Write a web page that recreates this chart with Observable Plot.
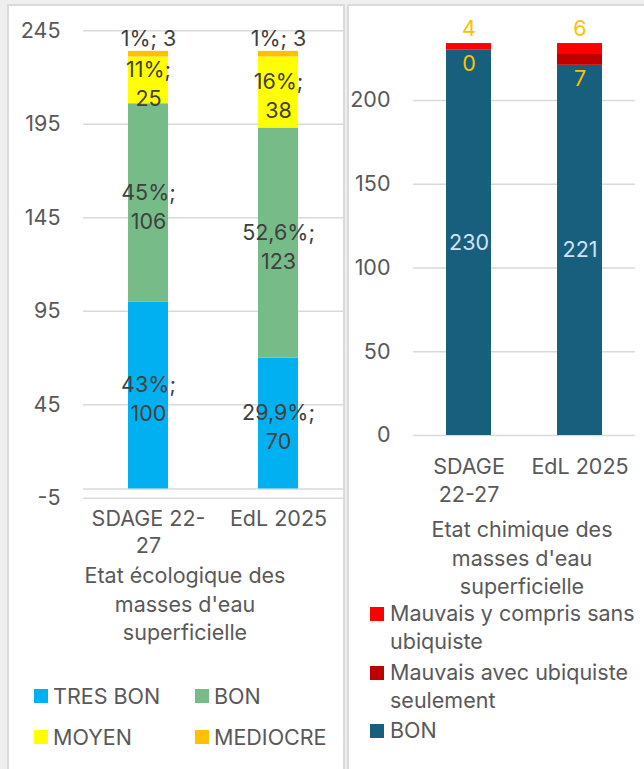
<!DOCTYPE html>
<html><head><meta charset="utf-8">
<script src="https://cdn.jsdelivr.net/npm/d3@7"></script>
<script src="https://cdn.jsdelivr.net/npm/@observablehq/plot@0.6"></script>
<style>
body{margin:0;background:#efefef;font-family:Inter,"Noto Sans",sans-serif;}
#wrap{position:relative;width:644px;height:769px;overflow:hidden;}
.panel{position:absolute;background:#fff;border:2px solid #dadada;box-sizing:border-box;}
.abs{position:absolute;}
.txt{color:#595959;font-size:21.5px;white-space:nowrap;}
.sq{position:absolute;width:14px;height:14px;}
</style></head>
<body>
<div id="wrap">
  <div class="panel" style="left:7px;top:4px;width:338px;height:790px;"></div>
  <div class="panel" style="left:347px;top:4px;width:310px;height:790px;"></div>
  <div id="left" class="abs" style="left:0;top:0;"></div>
  <div id="right" class="abs" style="left:345px;top:0;"></div>
  <div id="titles"></div>
  <div id="ecoLegend"></div>
  <div id="chemLegend"></div>
</div>
<script>
// ---- data ----
const categories = ["SDAGE 22-27", "EdL 2025"];
const ecoXLabels = ["SDAGE 22-\n27", "EdL 2025"];
const chemXLabels = ["SDAGE\n22-27", "EdL 2025"];

const ecoSeries = ["TRES BON", "BON", "MOYEN", "MEDIOCRE"];
const ecoTresBon = [100, 70];
const ecoBon = [106, 123];
const ecoMoyen = [25, 38];
const ecoMediocre = [3, 3];
const ecoPctTresBon = ["43%", "29,9%"];
const ecoPctBon = ["45%", "52,6%"];
const ecoPctMoyen = ["11%", "16%"];
const ecoPctMediocre = ["1%", "1%"];
const ecoColors = ["#00B0F0", "#77BB88", "#FFFF00", "#FFC000"];
const ecoTicks = [-5, 45, 95, 145, 195, 245];

const chemSeries = ["BON", "Mauvais avec ubiquiste seulement", "Mauvais y compris sans ubiquiste"];
const chemBon = [230, 221];
const chemUbiquiste = [0, 7];
const chemSansUbiquiste = [4, 6];
const chemColors = ["#185F7E", "#C00000", "#FF0000"];
const chemTicks = [0, 50, 100, 150, 200];

const ecoTitleLines = ["Etat écologique des", "masses d'eau", "superficielle"];
const chemTitleLines = ["Etat chimique des", "masses d'eau", "superficielle"];
const chemLegendLines = [["BON"], ["Mauvais avec ubiquiste", "seulement"], ["Mauvais y compris sans", "ubiquiste"]];

// ---- tables ----
const ecoValues = [ecoTresBon, ecoBon, ecoMoyen, ecoMediocre];
const ecoPcts = [ecoPctTresBon, ecoPctBon, ecoPctMoyen, ecoPctMediocre];
const eco = [];
ecoSeries.forEach((s, i) => categories.forEach((c, j) => eco.push({cat: c, series: s, value: ecoValues[i][j], pct: ecoPcts[i][j]})));
const chemValues = [chemBon, chemUbiquiste, chemSansUbiquiste];
const chem = [];
chemSeries.forEach((s, i) => categories.forEach((c, j) => chem.push({cat: c, series: s, value: chemValues[i][j]})));

const FONT = 'Inter, "Noto Sans", sans-serif';
const AX = "#595959";
const FS = 21.5;

const left = Plot.plot({
  width: 345, height: 769,
  marginTop: 30.3, marginBottom: 271.2, marginLeft: 83, marginRight: 2,
  style: {background: "transparent", fontFamily: FONT, fontSize: FS + "px", color: AX},
  x: {domain: categories, paddingInner: 0.692, paddingOuter: 0.346, axis: null},
  y: {domain: [-5, 245], axis: null},
  color: {domain: ecoSeries, range: ecoColors},
  marks: [
    Plot.ruleY(ecoTicks, {stroke: "#d9d9d9", strokeWidth: 1.5}),
    Plot.ruleY([0], {stroke: "#d9d9d9", strokeWidth: 1.5}),
    Plot.text(ecoTicks, {y: d => d, text: d => String(d), frameAnchor: "left", textAnchor: "end", dx: -23, fill: AX, fontSize: FS}),
    Plot.text(categories, {x: d => d, text: (d, i) => ecoXLabels[i], frameAnchor: "bottom", lineAnchor: "top", dy: 9, lineHeight: 1.25, fill: AX, fontSize: FS}),
    Plot.barY(eco, {x: "cat", y: "value", fill: "series"}),
    Plot.text(eco, Plot.stackY({x: "cat", y: "value", text: d => d.series === "MEDIOCRE" ? "" : d.pct + ";\n" + d.value, lineHeight: 1.36, dy: 2, fill: "#404040", fontSize: FS})),
    Plot.text(eco, Plot.stackY2({x: "cat", y: "value", text: d => d.series === "MEDIOCRE" ? d.pct + "; " + d.value : "", dy: -12, fill: "#404040", fontSize: FS}))
  ]
});
document.getElementById("left").append(left);

const right = Plot.plot({
  width: 299, height: 769,
  marginTop: 16.25, marginBottom: 334, marginLeft: 68, marginRight: 9,
  style: {background: "transparent", fontFamily: FONT, fontSize: FS + "px", color: AX},
  x: {domain: categories, paddingInner: 0.595, paddingOuter: 0.297, axis: null},
  y: {domain: [0, 250], axis: null},
  color: {domain: chemSeries, range: chemColors},
  marks: [
    Plot.ruleY(chemTicks, {stroke: "#d9d9d9", strokeWidth: 1.5}),
    Plot.text(chemTicks, {y: d => d, text: d => String(d), frameAnchor: "left", textAnchor: "end", dx: -23, fill: AX, fontSize: FS}),
    Plot.text(categories, {x: d => d, text: (d, i) => chemXLabels[i], frameAnchor: "bottom", lineAnchor: "top", dy: 19, lineHeight: 1.3, fill: AX, fontSize: FS}),
    Plot.barY(chem, {x: "cat", y: "value", fill: "series"}),
    Plot.text(chem, Plot.stackY({x: "cat", y: "value", text: d => d.series === "BON" ? String(d.value) : "", fill: "#cfe3f3", fontSize: FS})),
    Plot.text(chem, Plot.stackY1({x: "cat", y: "value", text: d => d.series === chemSeries[1] ? String(d.value) : "", dy: 14, fill: "#FFC000", fontSize: FS})),
    Plot.text(chem, Plot.stackY2({x: "cat", y: "value", text: d => d.series === chemSeries[2] ? String(d.value) : "", dy: -14, fill: "#FFC000", fontSize: FS}))
  ]
});
document.getElementById("right").append(right);

// axis titles: one line per div, centred on given x
const titles = document.getElementById("titles");
function addTitle(lines, cx, y0, step) {
  lines.forEach((t, k) => {
    titles.insertAdjacentHTML("beforeend",
      `<div class="abs txt" style="left:${cx - 120}px;width:240px;text-align:center;top:${y0 + k * step - 11}px;line-height:22px;">${t}</div>`);
  });
}
addTitle(ecoTitleLines, 185, 575, 28.5);
addTitle(chemTitleLines, 522, 529, 28.5);

// left legend (2x2)
const ecoLegPos = [[34, 696], [195, 696], [34, 737], [195, 737]];
const ecoLeg = document.getElementById("ecoLegend");
ecoSeries.forEach((s, i) => {
  const [x, y] = ecoLegPos[i];
  ecoLeg.insertAdjacentHTML("beforeend",
    `<div class="sq" style="left:${x}px;top:${y - 7}px;background:${ecoColors[i]}"></div>` +
    `<div class="abs txt" style="left:${x + 19}px;top:${y - 14}px;line-height:28px;">${s}</div>`);
});

// right legend (reverse order, top = last series)
const chemLegY = [730, 672, 613];
const chemLeg = document.getElementById("chemLegend");
chemSeries.forEach((s, i) => {
  const y = chemLegY[i];
  chemLeg.insertAdjacentHTML("beforeend",
    `<div class="sq" style="left:370px;top:${y - 6}px;background:${chemColors[i]}"></div>` +
    `<div class="abs txt" style="left:390px;top:${y - 14}px;line-height:28px;">${chemLegendLines[i].join("<br>")}</div>`);
});
</script>
</body></html>
